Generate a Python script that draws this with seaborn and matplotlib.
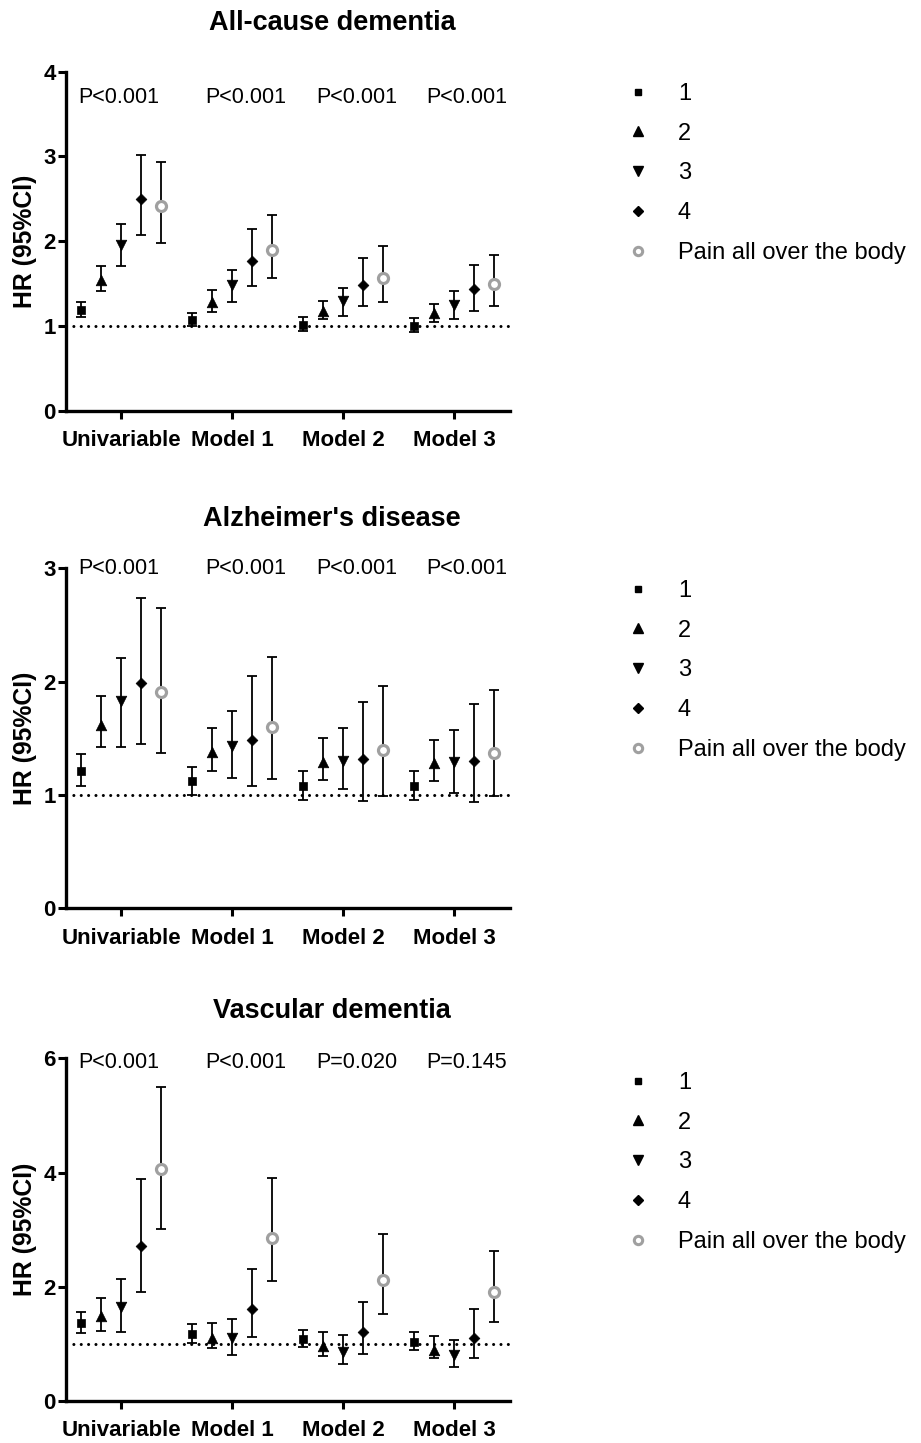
import numpy as np
import pandas as pd
import matplotlib
matplotlib.use("Agg")
import matplotlib.pyplot as plt
import seaborn as sns
from matplotlib.lines import Line2D

# categories
models = ["Univariable", "Model 1", "Model 2", "Model 3"]
groups = ["1", "2", "3", "4", "Pain all over the body"]

# All-cause dementia: rows = groups, cols = models
allcause_hr = [[1.19, 1.07, 1.01, 1.00],
               [1.54, 1.28, 1.18, 1.15],
               [1.96, 1.48, 1.30, 1.25],
               [2.50, 1.77, 1.48, 1.43],
               [2.41, 1.90, 1.57, 1.49]]
allcause_lo = [[1.10, 1.00, 0.94, 0.93],
               [1.41, 1.17, 1.08, 1.05],
               [1.71, 1.28, 1.12, 1.08],
               [2.07, 1.47, 1.23, 1.18],
               [1.98, 1.56, 1.28, 1.23]]
allcause_hi = [[1.28, 1.15, 1.10, 1.09],
               [1.71, 1.42, 1.30, 1.26],
               [2.20, 1.66, 1.45, 1.41],
               [3.02, 2.14, 1.80, 1.72],
               [2.93, 2.31, 1.94, 1.84]]
allcause_p = ["P<0.001", "P<0.001", "P<0.001", "P<0.001"]

# Alzheimer's disease
alz_hr = [[1.21, 1.12, 1.08, 1.08],
          [1.62, 1.38, 1.29, 1.28],
          [1.83, 1.43, 1.30, 1.29],
          [1.99, 1.49, 1.32, 1.30],
          [1.91, 1.60, 1.40, 1.37]]
alz_lo = [[1.08, 1.00, 0.96, 0.96],
          [1.42, 1.21, 1.13, 1.12],
          [1.42, 1.15, 1.05, 1.02],
          [1.45, 1.08, 0.95, 0.94],
          [1.37, 1.14, 0.99, 0.99]]
alz_hi = [[1.36, 1.25, 1.21, 1.21],
          [1.87, 1.59, 1.50, 1.49],
          [2.21, 1.74, 1.59, 1.57],
          [2.74, 2.05, 1.82, 1.80],
          [2.65, 2.22, 1.96, 1.93]]
alz_p = ["P<0.001", "P<0.001", "P<0.001", "P<0.001"]

# Vascular dementia
vasc_hr = [[1.36, 1.17, 1.08, 1.04],
           [1.48, 1.11, 0.96, 0.90],
           [1.65, 1.11, 0.86, 0.81],
           [2.71, 1.61, 1.20, 1.11],
           [4.07, 2.86, 2.12, 1.90]]
vasc_lo = [[1.19, 1.01, 0.94, 0.90],
           [1.23, 0.92, 0.79, 0.76],
           [1.21, 0.81, 0.64, 0.59],
           [1.90, 1.12, 0.82, 0.75],
           [3.01, 2.10, 1.52, 1.38]]
vasc_hi = [[1.56, 1.35, 1.24, 1.21],
           [1.80, 1.37, 1.20, 1.13],
           [2.14, 1.43, 1.15, 1.06],
           [3.88, 2.31, 1.74, 1.61],
           [5.50, 3.91, 2.92, 2.63]]
vasc_p = ["P<0.001", "P<0.001", "P=0.020", "P=0.145"]

panels = [
    ("All-cause dementia", allcause_hr, allcause_lo, allcause_hi, allcause_p, 4, 1, 3.69),
    ("Alzheimer's disease", alz_hr, alz_lo, alz_hi, alz_p, 3, 1, 3.0),
    ("Vascular dementia", vasc_hr, vasc_lo, vasc_hi, vasc_p, 6, 2, 5.92),
]

sns.set_style("ticks")
plt.rcParams['font.family'] = ['Liberation Sans', 'DejaVu Sans']
plt.rcParams['text.color'] = 'black'
plt.rcParams['axes.labelcolor'] = 'black'
plt.rcParams['xtick.color'] = 'black'
plt.rcParams['ytick.color'] = 'black'

offsets = [-0.36, -0.18, 0.0, 0.18, 0.36]
markers = ["s", "^", "v", "D", "o"]
sizes = [26, 58, 58, 30, 52]
gray = "#a0a0a0"
p_shift = [-0.02, 0.12, 0.12, 0.11]

fig = plt.figure(figsize=(9.21, 14.43), dpi=100)
ax_rects = [[0.0713, 0.7154, 0.4824, 0.2349],
            [0.0713, 0.3705, 0.4824, 0.2356],
            [0.0713, 0.0291, 0.4824, 0.2375]]
title_y = [23, 519, 1011]
legend_top = [83, 580, 1072]

for k, (title, hr, lo, hi, pvals, ymax, ystep, p_y) in enumerate(panels):
    ax = fig.add_axes(ax_rects[k])
    rows = []
    for g, grp in enumerate(groups):
        for m, mod in enumerate(models):
            rows.append({"group": grp, "x": m + offsets[g], "hr": hr[g][m],
                         "lo": lo[g][m], "hi": hi[g][m]})
    df = pd.DataFrame(rows)

    ax.axhline(1, color="black", lw=2.2, ls=(0, (0.01, 2.4)),
               dash_capstyle="round", zorder=1)

    for g, grp in enumerate(groups):
        sub = df[df["group"] == grp]
        ax.errorbar(sub["x"], sub["hr"],
                    yerr=[sub["hr"] - sub["lo"], sub["hi"] - sub["hr"]],
                    fmt="none", ecolor="black", elinewidth=1.3,
                    capsize=3.8, capthick=1.3, zorder=2)
        if g == 4:
            sns.scatterplot(data=sub, x="x", y="hr", marker="o", s=sizes[g],
                            facecolor="white", edgecolor=gray, linewidth=2.3,
                            ax=ax, zorder=4, legend=False)
        else:
            sns.scatterplot(data=sub, x="x", y="hr", marker=markers[g], s=sizes[g],
                            color="black", edgecolor="black", linewidth=0.5,
                            ax=ax, zorder=4, legend=False)

    ax.set_xlim(-0.5, 3.5)
    ax.set_ylim(0, ymax)
    ax.set_xticks(range(len(models)))
    ax.set_xticklabels(models, fontsize=16, fontweight="bold")
    ax.set_yticks(np.arange(0, ymax + 0.01, ystep))
    ax.set_yticklabels([str(int(v)) for v in np.arange(0, ymax + 0.01, ystep)],
                       fontsize=16, fontweight="bold")
    ax.tick_params(axis="both", length=6, width=2.2, color="black")
    ax.tick_params(axis="y", pad=1)
    ax.tick_params(axis="x", pad=8)
    ax.set_xlabel("")
    ax.set_ylabel("HR (95%CI)", fontsize=17.8, fontweight="bold", labelpad=5)
    sns.despine(ax=ax)
    for side in ["left", "bottom"]:
        ax.spines[side].set_linewidth(2.4)
        ax.spines[side].set_color("black")

    for m in range(len(models)):
        ax.text(m + p_shift[m], p_y, pvals[m], ha="center", va="center",
                fontsize=15.5, clip_on=False)

    fig.text(332 / 921, 1 - title_y[k] / 1443, title, ha="center", va="center",
             fontsize=19.5, fontweight="bold")

    handles = []
    for g, grp in enumerate(groups):
        if g == 4:
            h = Line2D([], [], ls="none", marker="o", markersize=6,
                       markerfacecolor="white", markeredgecolor=gray,
                       markeredgewidth=2.2)
        else:
            h = Line2D([], [], ls="none", marker=markers[g],
                       markersize=[4.5, 6.5, 6.5, 5][g], color="black")
        handles.append(h)
    fig.legend(handles, groups, loc="upper left",
               bbox_to_anchor=(626 / 921, 1 - legend_top[k] / 1443),
               frameon=False, fontsize=17, handlelength=1.0,
               handletextpad=1.2, labelspacing=0.75, borderpad=0,
               borderaxespad=0)

fig.savefig("out.png", dpi=100)
